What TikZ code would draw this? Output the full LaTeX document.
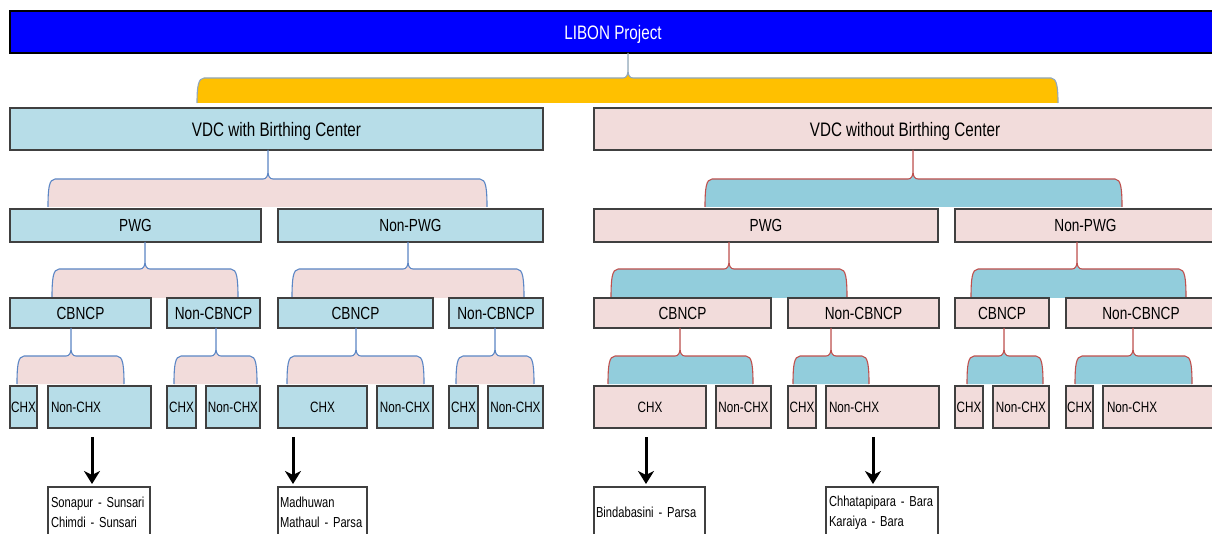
\documentclass[tikz,border=0pt]{standalone}
\usepackage{fontspec}
\setmainfont{Liberation Sans}[FakeStretch=0.78]
\newfontfamily\listfont{Liberation Sans}[FakeStretch=0.77]
\usetikzlibrary{arrows.meta}

\definecolor{topblue}{HTML}{0000FF}
\definecolor{gold}{HTML}{FFC000}
\definecolor{goldline}{HTML}{8FA7BF}
\definecolor{cellblue}{HTML}{B7DDE8}
\definecolor{cellpink}{HTML}{F2DCDB}
\definecolor{capblue}{HTML}{92CDDC}
\definecolor{edgeblue}{HTML}{5B86C5}
\definecolor{edgered}{HTML}{C0504D}
\definecolor{cellline}{HTML}{404040}

% centred cell: name, style, left, top, right, bottom, text
\newcommand\ccell[7]{%
  \pgfmathsetmacro\bw{#5-#3}\pgfmathsetmacro\bh{#6-#4}%
  \node[#2, minimum width=\bw pt, minimum height=\bh pt, anchor=north west] (#1) at (#3,#4) {#7};}
% left-aligned cell: name, style, left, top, right, bottom, padding, text
\newcommand\lcell[8]{%
  \pgfmathsetmacro\bh{#6-#4}\pgfmathsetmacro\tw{#5-#3-2*#7}%
  \node[#2, minimum height=\bh pt, text width=\tw pt, inner xsep=#7pt, align=left, anchor=north west] (#1) at (#3,#4) {#8};}
% curly grouping cap: left, right, stem x, stem top, cap top, cap bottom, fill style, line style
\newcommand\grp[8]{%
  \fill[#7] (#1,#6) .. controls (#1,#5+10) and (#1+1,#5) .. (#1+7,#5) -- (#3-5,#5)
    .. controls (#3-1.5,#5) and (#3,#5-3) .. (#3,#5-8) -- (#3,#4) -- (#3,#5-8)
    .. controls (#3,#5-3) and (#3+1.5,#5) .. (#3+5,#5) -- (#2-7,#5)
    .. controls (#2-1,#5) and (#2,#5+10) .. (#2,#6) -- cycle;
  \draw[#8] (#1,#6) .. controls (#1,#5+10) and (#1+1,#5) .. (#1+7,#5) -- (#3-5,#5)
    .. controls (#3-1.5,#5) and (#3,#5-3) .. (#3,#5-8) -- (#3,#4) -- (#3,#5-8)
    .. controls (#3,#5-3) and (#3+1.5,#5) .. (#3+5,#5) -- (#2-7,#5)
    .. controls (#2-1,#5) and (#2,#5+10) .. (#2,#6);}

\tikzset{
  cell/.style={draw=cellline, line width=1.2pt, inner sep=0pt, outer sep=0pt, text=black},
  bcell/.style={cell, fill=cellblue},
  pcell/.style={cell, fill=cellpink},
  wcell/.style={cell, fill=white, font=\listfont\fontsize{14.5}{20}\selectfont},
  fa/.style={font=\fontsize{19.5}{22}\selectfont, text depth=0pt},
  fb/.style={font=\fontsize{17.5}{20}\selectfont, text depth=0pt},
  fc/.style={font=\fontsize{15}{18}\selectfont},
  bluecap/.style={fill=cellpink},
  bluecapline/.style={draw=edgeblue, line width=1.1pt},
  redcap/.style={fill=capblue},
  redcapline/.style={draw=edgered, line width=1.1pt},
  pointer/.style={line width=3pt, -{Stealth[length=13pt,width=16pt,inset=4pt]}},
}

\begin{document}
\begin{tikzpicture}[x=1pt,y=-1pt]
\useasboundingbox (0,0) rectangle (1212,534);
\clip (0,0) rectangle (1212,534);

% project bar and its cap
\ccell{proj}{cell, draw=black, fill=topblue, text=white, fa}{10}{11}{1216}{53}{LIBON Project}
\grp{197}{1058}{628}{53}{78}{103}{fill=gold}{draw=goldline, line width=1.1pt}

% first level
\ccell{with}{bcell, fa}{10}{108}{543}{150}{VDC with Birthing Center}
\ccell{without}{pcell, fa}{594}{108}{1216}{150}{VDC without Birthing Center}
\grp{48}{487}{268}{150}{179}{207}{bluecap}{bluecapline}
\grp{705}{1122}{913}{150}{179}{207}{redcap}{redcapline}

% second level
\ccell{wp}{bcell, fb}{10}{209}{261}{242}{PWG}
\ccell{wn}{bcell, fb}{278}{209}{543}{242}{Non-PWG}
\ccell{op}{pcell, fb}{594}{209}{938}{242}{PWG}
\ccell{on}{pcell, fb}{955}{209}{1216}{242}{Non-PWG}
\grp{52}{238}{145}{242}{269}{298}{bluecap}{bluecapline}
\grp{292}{524}{408}{242}{269}{298}{bluecap}{bluecapline}
\grp{611}{847}{729}{242}{269}{298}{redcap}{redcapline}
\grp{971}{1186}{1077}{242}{269}{298}{redcap}{redcapline}

% third level
\ccell{wpc}{bcell, fb}{10}{298}{151}{328}{CBNCP}
\ccell{wpn}{bcell, fb}{167}{298}{260}{328}{Non-CBNCP}
\ccell{wnc}{bcell, fb}{278}{298}{433}{328}{CBNCP}
\ccell{wnn}{bcell, fb}{449}{298}{543}{328}{Non-CBNCP}
\ccell{opc}{pcell, fb}{594}{298}{771}{328}{CBNCP}
\ccell{opn}{pcell, fb}{788}{298}{939}{328}{Non-CBNCP}
\ccell{onc}{pcell, fb}{955}{298}{1049}{328}{CBNCP}
\ccell{onn}{pcell, fb}{1066}{298}{1216}{328}{Non-CBNCP}
\grp{17}{124}{71}{328}{356}{384}{bluecap}{bluecapline}
\grp{174}{257}{216}{328}{356}{384}{bluecap}{bluecapline}
\grp{287}{424}{356}{328}{356}{384}{bluecap}{bluecapline}
\grp{456}{534}{495}{328}{356}{384}{bluecap}{bluecapline}
\grp{608}{753}{680}{328}{356}{384}{redcap}{redcapline}
\grp{793}{869}{831}{328}{356}{384}{redcap}{redcapline}
\grp{967}{1043}{1004}{328}{356}{384}{redcap}{redcapline}
\grp{1075}{1192}{1133}{328}{356}{384}{redcap}{redcapline}

% fourth level
\ccell{wpcx}{bcell, fc}{10}{386}{37}{428}{CHX}
\lcell{wpcn}{bcell, fc}{48}{386}{151}{428}{3}{Non-CHX}
\ccell{wpnx}{bcell, fc}{167}{386}{196}{428}{CHX}
\ccell{wpnn}{bcell, fc}{206}{386}{260}{428}{Non-CHX}
\ccell{wncx}{bcell, fc}{278}{386}{367}{428}{CHX}
\ccell{wncn}{bcell, fc}{377}{386}{433}{428}{Non-CHX}
\ccell{wnnx}{bcell, fc}{449}{386}{478}{428}{CHX}
\ccell{wnnn}{bcell, fc}{488}{386}{543}{428}{Non-CHX}
\ccell{opcx}{pcell, fc}{594}{386}{706}{428}{CHX}
\ccell{opcn}{pcell, fc}{716}{386}{771}{428}{Non-CHX}
\ccell{opnx}{pcell, fc}{788}{386}{816}{428}{CHX}
\lcell{opnn}{pcell, fc}{826}{386}{939}{428}{3}{Non-CHX}
\ccell{oncx}{pcell, fc}{955}{386}{983}{428}{CHX}
\ccell{oncn}{pcell, fc}{993}{386}{1049}{428}{Non-CHX}
\ccell{onnx}{pcell, fc}{1066}{386}{1093}{428}{CHX}
\lcell{onnn}{pcell, fc}{1103}{386}{1216}{428}{4}{Non-CHX}

% village lists
\lcell{v1}{wcell}{48}{487}{150}{538}{3}{\mbox{Sonapur - Sunsari}\\\mbox{Chimdi - Sunsari}}
\lcell{v2}{wcell}{278}{487}{367}{538}{2}{\mbox{Madhuwan}\\\mbox{Mathaul - Parsa}}
\lcell{v3}{wcell}{594}{487}{705}{538}{2}{\mbox{Bindabasini - Parsa}}
\lcell{v4}{wcell}{826}{487}{938}{538}{3}{\mbox{Chhatapipara - Bara}\\\mbox{Karaiya - Bara}}

% pointers from the selected cells to their villages
\coordinate (p1) at (92,437);  \coordinate (q1) at (92,484);
\coordinate (p2) at (293,437); \coordinate (q2) at (293,484);
\coordinate (p3) at (646,437); \coordinate (q3) at (646,484);
\coordinate (p4) at (873,437); \coordinate (q4) at (873,484);
\draw[pointer] (p1) -- (q1);
\draw[pointer] (p2) -- (q2);
\draw[pointer] (p3) -- (q3);
\draw[pointer] (p4) -- (q4);
\end{tikzpicture}
\end{document}
